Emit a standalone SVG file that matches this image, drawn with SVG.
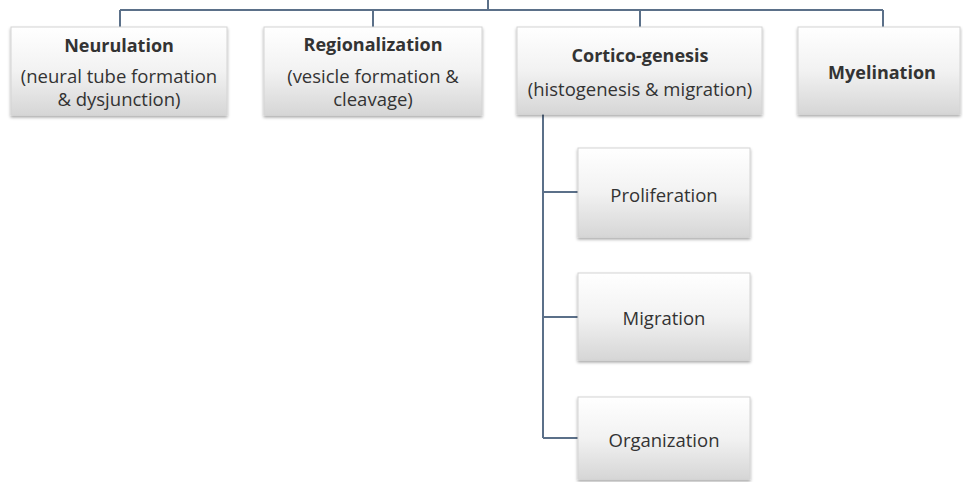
<svg xmlns="http://www.w3.org/2000/svg" width="963" height="482" viewBox="0 0 963 482">
<style>
.box{fill:url(#g);stroke:#d4d4d4;stroke-width:1;filter:url(#sh)}
.t{font-family:"Open Sans","Liberation Sans",sans-serif;font-size:18.5px;fill:#333333;text-anchor:middle;dominant-baseline:central}
.b{font-weight:bold;font-size:18px}
.ln{stroke:#5b7089;stroke-width:2;fill:none}
</style>
<defs>
<linearGradient id="g" x1="0" y1="0" x2="0" y2="1">
<stop offset="0" stop-color="#ffffff"/>
<stop offset="0.5" stop-color="#f2f2f2"/>
<stop offset="1" stop-color="#d6d6d6"/>
</linearGradient>
<filter id="sh" x="-10%" y="-10%" width="120%" height="130%">
<feDropShadow dx="0" dy="2" stdDeviation="1.5" flood-color="#000" flood-opacity="0.35"/>
</filter>
</defs>
<g id="connectors">
<path class="ln" d="M488 0V10M120 10H883M120 10V27M373 10V27M640 10V27M883 10V27"/>
<path class="ln" d="M543 114V438M543 192H578M543 317H578M543 438H578"/>
</g>
<g id="neurulation">
<rect class="box" x="11" y="27" width="216" height="88"/>
<text class="t b" x="119" y="45">Neurulation</text>
<text class="t" x="119" y="75">(neural tube formation</text>
<text class="t" x="119" y="98">&amp; dysjunction)</text>
</g>
<g id="regionalization">
<rect class="box" x="264" y="27" width="218" height="88"/>
<text class="t b" x="373" y="44">Regionalization</text>
<text class="t" x="373" y="75">(vesicle formation &amp;</text>
<text class="t" x="373" y="98">cleavage)</text>
</g>
<g id="corticogenesis">
<rect class="box" x="517" y="27" width="245" height="87"/>
<text class="t b" x="640" y="55">Cortico-genesis</text>
<text class="t" x="640" y="88">(histogenesis &amp; migration)</text>
</g>
<g id="myelination">
<rect class="box" x="798" y="27" width="162" height="87"/>
<text class="t b" x="882" y="72">Myelination</text>
</g>
<g id="proliferation">
<rect class="box" x="578" y="148" width="172" height="89"/>
<text class="t" x="664" y="194">Proliferation</text>
</g>
<g id="migration">
<rect class="box" x="578" y="273" width="172" height="87"/>
<text class="t" x="664" y="317">Migration</text>
</g>
<g id="organization">
<rect class="box" x="578" y="397" width="172" height="82"/>
<text class="t" x="664" y="439">Organization</text>
</g>
</svg>
